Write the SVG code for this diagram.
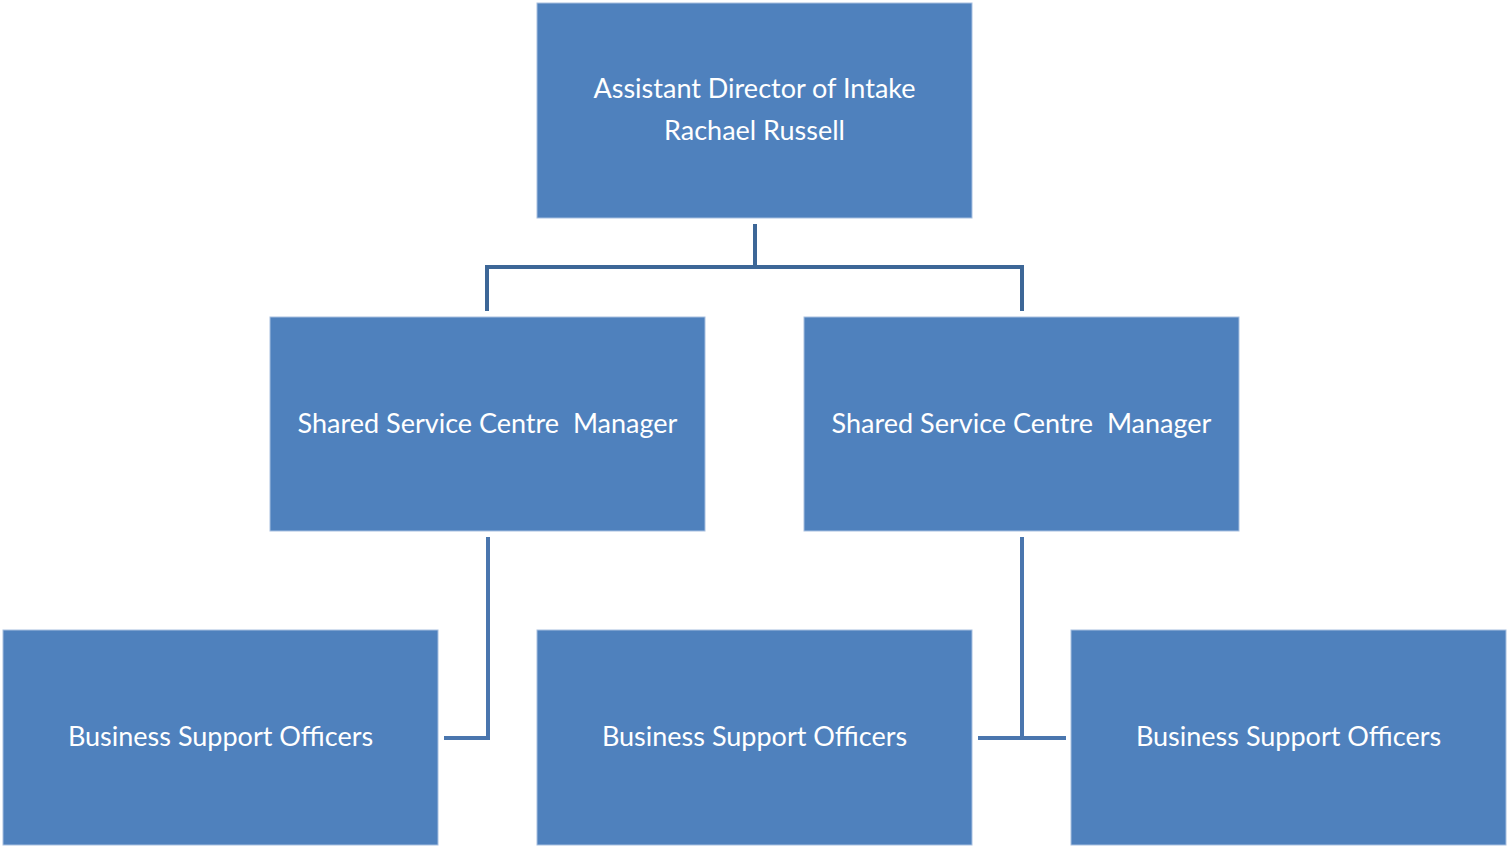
<svg xmlns="http://www.w3.org/2000/svg" width="1508" height="848" viewBox="0 0 1508 848">
<style>
.box{fill:#4F81BD;stroke:#A7BFE0;stroke-width:1}
.lbl{font-family:Lato,"Open Sans","Liberation Sans",sans-serif;font-size:27px;fill:#FFFFFF;text-anchor:middle}
.c1{fill:none;stroke:#3D6797;stroke-width:4}
.c2{fill:none;stroke:#4A76AE;stroke-width:4}
</style>
<rect width="1508" height="848" fill="#FFFFFF"/>
<g id="connectors">
<path class="c1" d="M755 224 V267 M487 311 V267 H1022 V311"/>
<path class="c2" d="M444 738 H488 V537"/>
<path class="c2" d="M978 738 H1066 M1022 738 V537"/>
</g>
<g id="director">
<rect class="box" x="537" y="3" width="435" height="215"/>
<text class="lbl" x="754.5" y="98">Assistant Director of Intake</text>
<text class="lbl" x="754.5" y="140">Rachael Russell</text>
</g>
<g id="manager1">
<rect class="box" x="270" y="317" width="435" height="214"/>
<text class="lbl" x="487.5" y="433" xml:space="preserve">Shared Service Centre  Manager</text>
</g>
<g id="manager2">
<rect class="box" x="804" y="317" width="435" height="214"/>
<text class="lbl" x="1021.5" y="433" xml:space="preserve">Shared Service Centre  Manager</text>
</g>
<g id="officers1">
<rect class="box" x="3" y="630" width="435" height="215"/>
<text class="lbl" x="220.5" y="746">Business Support Officers</text>
</g>
<g id="officers2">
<rect class="box" x="537" y="630" width="435" height="215"/>
<text class="lbl" x="754.5" y="746">Business Support Officers</text>
</g>
<g id="officers3">
<rect class="box" x="1071" y="630" width="435" height="215"/>
<text class="lbl" x="1288.5" y="746">Business Support Officers</text>
</g>
</svg>
